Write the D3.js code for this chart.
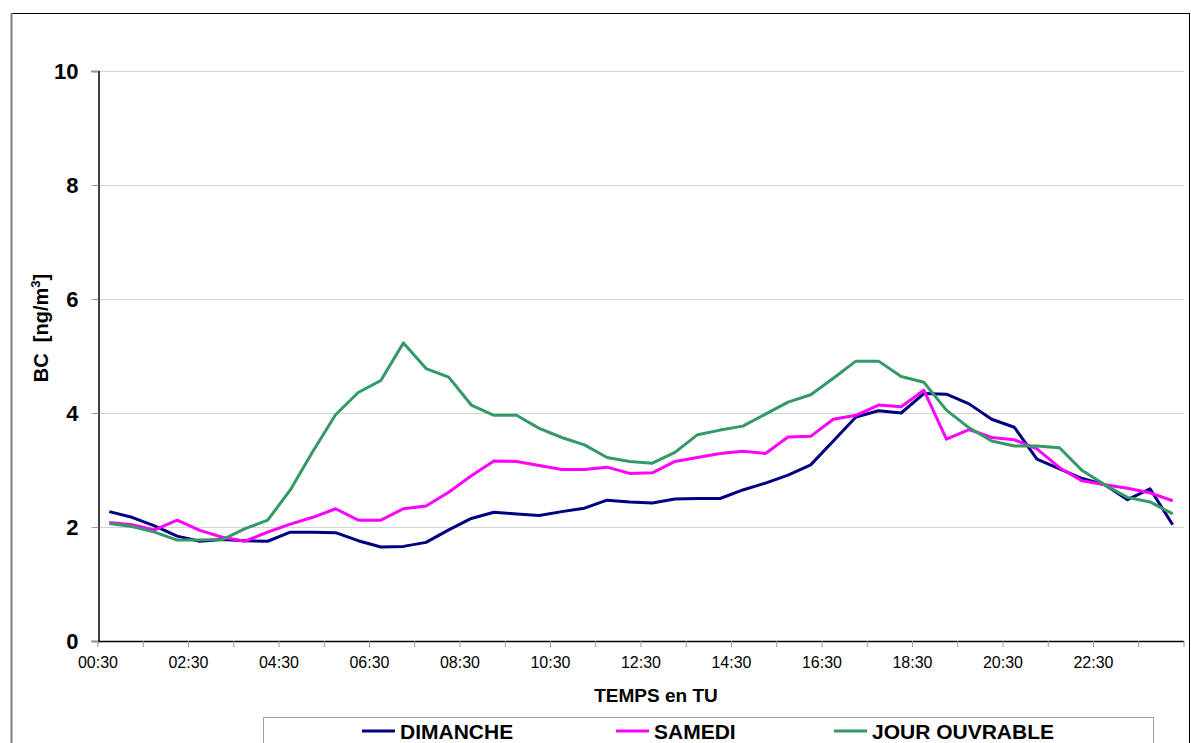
<!DOCTYPE html>
<html>
<head>
<meta charset="utf-8">
<script src="https://cdn.jsdelivr.net/npm/d3@7"></script>
<style>
  html, body { margin: 0; padding: 0; background: #fff; }
  svg { display: block; font-family: "Liberation Sans", Arial, sans-serif; }
</style>
</head>
<body>
<svg id="chart" width="1191" height="743"></svg>
<script>
// Half-hourly categories (UT)
const categories = [
  "00:30","01:00","01:30","02:00","02:30","03:00","03:30","04:00",
  "04:30","05:00","05:30","06:00","06:30","07:00","07:30","08:00",
  "08:30","09:00","09:30","10:00","10:30","11:00","11:30","12:00",
  "12:30","13:00","13:30","14:00","14:30","15:00","15:30","16:00",
  "16:30","17:00","17:30","18:00","18:30","19:00","19:30","20:00",
  "20:30","21:00","21:30","22:00","22:30","23:00","23:30","24:00"
];

// BC concentration, ng/m3
const dimanche = [
  2.27, 2.17, 2.02, 1.84, 1.75, 1.78, 1.76, 1.75, 1.91, 1.91, 1.90, 1.76,
  1.65, 1.66, 1.73, 1.95, 2.15, 2.26, 2.23, 2.20, 2.27, 2.33, 2.47, 2.44,
  2.42, 2.49, 2.50, 2.50, 2.65, 2.77, 2.91, 3.09, 3.51, 3.93, 4.04, 4.00,
  4.34, 4.33, 4.16, 3.89, 3.75, 3.19, 3.02, 2.85, 2.74, 2.48, 2.67, 2.04
];
const samedi = [
  2.08, 2.04, 1.95, 2.12, 1.94, 1.82, 1.75, 1.91, 2.05, 2.17, 2.32, 2.12,
  2.12, 2.32, 2.37, 2.61, 2.90, 3.16, 3.15, 3.08, 3.01, 3.01, 3.05, 2.94,
  2.95, 3.15, 3.22, 3.29, 3.33, 3.29, 3.58, 3.59, 3.89, 3.96, 4.14, 4.11,
  4.40, 3.54, 3.71, 3.57, 3.53, 3.37, 3.04, 2.81, 2.74, 2.68, 2.60, 2.46
];
const jourOuvrable = [
  2.06, 2.01, 1.91, 1.77, 1.77, 1.78, 1.97, 2.12, 2.65, 3.33, 3.97, 4.36,
  4.57, 5.23, 4.78, 4.63, 4.14, 3.96, 3.96, 3.73, 3.57, 3.44, 3.22, 3.15,
  3.12, 3.31, 3.62, 3.70, 3.77, 3.98, 4.19, 4.32, 4.61, 4.91, 4.91, 4.64,
  4.54, 4.05, 3.74, 3.51, 3.42, 3.42, 3.39, 2.99, 2.74, 2.52, 2.44, 2.23
];

const seriesNames = ["DIMANCHE", "SAMEDI", "JOUR OUVRABLE"];
const seriesColors = ["#000080", "#FF00FF", "#339966"];
const yTicks = [0, 2, 4, 6, 8, 10];
const xTickLabels = ["00:30","02:30","04:30","06:30","08:30","10:30",
                     "12:30","14:30","16:30","18:30","20:30","22:30"];

const series = [dimanche, samedi, jourOuvrable];

const svg = d3.select("#chart");
const plotLeft = 98, plotRight = 1184, plotTop = 71, plotBottom = 641;

// Outer frame
svg.append("rect")
  .attr("x", 11.5).attr("y", 13.5)
  .attr("width", 1189 - 11).attr("height", 760)
  .attr("fill", "none").attr("stroke", "#000").attr("stroke-width", 1);
svg.append("line")
  .attr("x1", 11.5).attr("x2", 11.5).attr("y1", 13).attr("y2", 743)
  .attr("stroke", "#808080").attr("stroke-width", 2);

const x = d3.scaleBand().domain(d3.range(categories.length)).range([plotLeft, plotRight]);
const y = d3.scaleLinear().domain([0, 10]).range([plotBottom, plotTop]);

// Horizontal gridlines
svg.append("g").selectAll("line").data(yTicks.filter(d => d > 0)).join("line")
  .attr("x1", plotLeft).attr("x2", plotRight)
  .attr("y1", d => Math.round(y(d)) + 0.5).attr("y2", d => Math.round(y(d)) + 0.5)
  .attr("stroke", "#d4d4d4").attr("stroke-width", 1);

// Y axis
const yAxis = svg.append("g")
  .attr("transform", `translate(${plotLeft + 0.5},0)`)
  .call(d3.axisLeft(y).tickValues(yTicks).tickSize(7).tickPadding(13).tickFormat(d3.format("d")));
yAxis.select(".domain").attr("stroke", "#000").attr("stroke-width", 1.5);
yAxis.selectAll(".tick line").attr("stroke", "#999");
yAxis.selectAll("text")
  .attr("font-size", 22).attr("font-weight", "bold").attr("fill", "#000")
  .attr("font-family", "Liberation Sans, Arial, sans-serif");

// X axis: ticks at every second category boundary, labels every fourth
const edge = i => x(i) !== undefined ? x(i) : plotRight;
const tickIdx = d3.range(0, categories.length + 1, 2);
svg.append("line")
  .attr("x1", plotLeft).attr("x2", plotRight)
  .attr("y1", plotBottom + 0.5).attr("y2", plotBottom + 0.5)
  .attr("stroke", "#000").attr("stroke-width", 1.5);
svg.append("g").selectAll("line").data(tickIdx).join("line")
  .attr("x1", d => edge(d)).attr("x2", d => edge(d))
  .attr("y1", plotBottom).attr("y2", plotBottom + 6)
  .attr("stroke", "#999").attr("stroke-width", 1);
svg.append("g").selectAll("text")
  .data(xTickLabels).join("text")
  .attr("x", d => edge(categories.indexOf(d)))
  .attr("y", 668)
  .attr("text-anchor", "middle")
  .attr("font-size", 16)
  .attr("fill", "#000")
  .text(d => d);

// Axis titles
svg.append("text")
  .attr("x", 656).attr("y", 702)
  .attr("text-anchor", "middle")
  .attr("font-size", 19).attr("font-weight", "bold")
  .text("TEMPS en TU");

const yTitle = svg.append("text")
  .attr("transform", "translate(48,328) rotate(-90)")
  .attr("text-anchor", "middle")
  .attr("font-size", 20).attr("font-weight", "bold");
yTitle.append("tspan").text("BC\u00A0\u00A0[ng/m");
yTitle.append("tspan").attr("font-size", 13).attr("dy", -8).text("3");
yTitle.append("tspan").attr("dy", 8).text("]");

// Series lines
const line = d3.line()
  .x((d, i) => x(i) + x.bandwidth() / 2)
  .y(d => y(d));
svg.append("g").selectAll("path").data(series).join("path")
  .attr("d", d => line(d))
  .attr("fill", "none")
  .attr("stroke", (d, i) => seriesColors[i])
  .attr("stroke-width", 3)
  .attr("stroke-linejoin", "round");

// Legend
svg.append("rect")
  .attr("x", 263.5).attr("y", 717.5).attr("width", 890).attr("height", 60)
  .attr("fill", "#fff").attr("stroke", "#a0a0a0").attr("stroke-width", 1);
const legendX = [362, 616, 834];
const lg = svg.append("g").selectAll("g").data(seriesNames).join("g")
  .attr("transform", (d, i) => `translate(${legendX[i]},731)`);
lg.append("line")
  .attr("x1", 0).attr("x2", 33).attr("y1", 0).attr("y2", 0)
  .attr("stroke", (d, i) => seriesColors[i]).attr("stroke-width", 3);
lg.append("text")
  .attr("x", 38).attr("y", 8)
  .attr("font-size", 21).attr("font-weight", "bold")
  .text(d => d);
</script>
</body>
</html>
